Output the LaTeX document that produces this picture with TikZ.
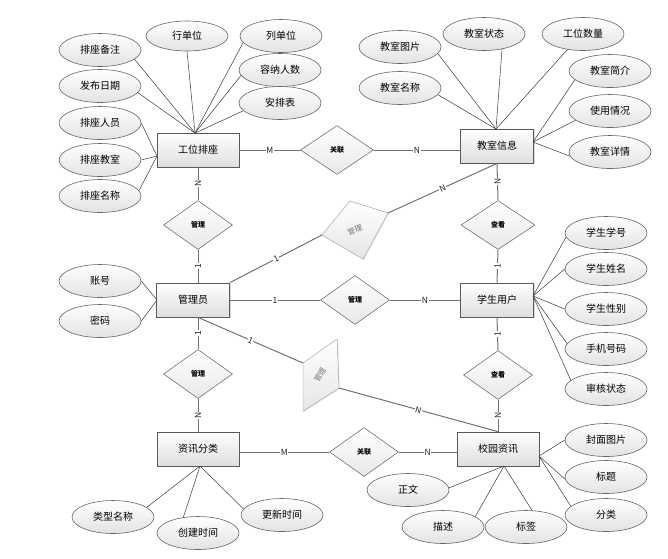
\documentclass[tikz,border=0pt]{standalone}
\usepackage{fontspec}
\setmainfont{Noto Sans CJK SC}
\usetikzlibrary{shapes.geometric,shadows}
\begin{document}
\begin{tikzpicture}[x=1pt,y=-1pt,
 ent/.style={rectangle,draw=black!65,line width=0.8pt,top color=white,bottom color=black!13,minimum width=82pt,minimum height=34pt,inner sep=0pt,font=\fontsize{10}{12}\selectfont,drop shadow={shadow xshift=1.2pt,shadow yshift=-1.2pt,opacity=0.3}},
 attr/.style={ellipse,draw=black!60,line width=0.6pt,top color=white,bottom color=black!11,minimum width=82pt,minimum height=33pt,inner sep=0pt,font=\fontsize{10}{12}\selectfont},
 rel/.style={diamond,draw=black!55,line width=0.6pt,top color=white,bottom color=black!9,minimum width=69pt,minimum height=49pt,inner sep=0pt,font=\fontsize{7}{8}\selectfont\bfseries},
 skew/.style={draw=black!25,line width=0.5pt,top color=white,bottom color=black!10,drop shadow={shadow xshift=1pt,shadow yshift=-1pt,opacity=0.2}},
 skewtext/.style={text=black!55,font=\fontsize{7.5}{8}\selectfont,inner sep=0pt},
 al/.style={draw=black!72,line width=0.55pt},
 rl/.style={draw=black!55,line width=1pt},
 card/.style={fill=white,inner sep=0.6pt,text=black!85,font=\fontsize{8.5}{9}\selectfont}
]
\useasboundingbox (0,0) rectangle (668,558);

% entities
\node[ent] (A) at (198,150) {工位排座};
\node[ent,minimum width=73pt] (B) at (497,146) {教室信息};
\node[ent,minimum width=73pt] (C) at (193,300) {管理员};
\node[ent,minimum width=73pt] (D) at (497,300) {学生用户};
\node[ent] (E) at (198,449) {资讯分类};
\node[ent] (F) at (498,449) {校园资讯};

% relationships
\node[rel,minimum width=73pt] (r1) at (337,150) {关联};
\node[rel] (r2) at (198,225) {管理};
\node[rel,minimum width=74pt] (r3) at (498,225) {查看};
\node[rel] (r4) at (355,300) {管理};
\node[rel] (r5) at (198,374) {管理};
\node[rel] (r6) at (498,375) {查看};
\node[rel] (r7) at (364,452) {关联};

% skewed relationships
\filldraw[skew] (350,201) -- (388,213) -- (363,259) -- (322,235) -- cycle;
\coordinate (q1l) at (322,235);
\coordinate (q1r) at (388,213);
\node[skewtext,rotate=20] (q1t) at (355,230) {管理};
\filldraw[skew] (337,339) -- (339,388) -- (303,411) -- (303,363) -- cycle;
\coordinate (q2l) at (303,363);
\coordinate (q2r) at (339,388);
\node[skewtext,rotate=60] (q2t) at (320,375) {管理};

% relationship connectors
\draw[rl] (r1.west -| A.east) -- node[card]{M} (r1.west);
\draw[rl] (r1.east) -- node[card]{N} (r1.east -| B.west);
\draw[rl] (A.south) -- node[card,rotate=90]{N} (r2.north);
\draw[rl] (r2.south) -- node[card,rotate=90]{1} (r2.south |- C.north);
\draw[rl] (C.north east) -- node[card,sloped]{1} (q1l);
\draw[rl] (q1r) -- node[card,sloped]{N} (B.south);
\draw[rl] (C.east) -- node[card]{1} (r4.west);
\draw[rl] (r4.east) -- node[card]{N} (D.west);
\draw[rl] (r5.north |- C.south) -- node[card,rotate=90]{1} (r5.north);
\draw[rl] (r5.south) -- node[card,rotate=90]{N} (E.north);
\draw[rl] (r5.north |- C.south) -- node[card,sloped]{1} (q2l);
\draw[rl] (q2r) -- node[card,sloped]{N} (F.north);
\draw[rl] (B.south) -- node[card,rotate=90]{N} (r3.north);
\draw[rl] (r3.south) -- node[card,rotate=90]{1} (D.north);
\draw[rl] (D.south) -- node[card,rotate=90]{1} (r6.north);
\draw[rl] (r6.south) -- node[card,rotate=90]{N} (F.north);
\draw[rl] (r7.west -| E.east) -- node[card]{M} (r7.west);
\draw[rl] (r7.east) -- node[card]{N} (r7.east -| F.west);

% attributes of 工位排座
\node[attr] (a1) at (100,50) {排座备注};
\node[attr] (a2) at (100,86) {发布日期};
\node[attr] (a3) at (100,123) {排座人员};
\node[attr] (a4) at (100,160) {排座教室};
\node[attr] (a5) at (100,196) {排座名称};
\node[attr,minimum height=30pt] (a6) at (187,36) {行单位};
\node[attr] (a7) at (281,36) {列单位};
\node[attr] (a8) at (280,70) {容纳人数};
\node[attr] (a9) at (280,103) {安排表};
\coordinate (Atop) at (195,133);
\coordinate (Aleft) at (157,156);
\draw[al] (a1.345) -- (Atop);
\draw[al] (a2.350) -- (Atop);
\draw[al] (a6.south) -- (Atop);
\draw[al] (a7.190) -- (Atop);
\draw[al] (a8.188) -- (Atop);
\draw[al] (a9.192) -- (Atop);
\draw[al] (a3.east) -- (Aleft);
\draw[al] (a4.east) -- (Aleft);
\draw[al] (a5.8) -- (Aleft);

% attributes of 教室信息
\node[attr] (b1) at (400,47) {教室图片};
\node[attr] (b2) at (484,34) {教室状态};
\node[attr] (b3) at (583,34) {工位数量};
\node[attr] (b4) at (400,88) {教室名称};
\node[attr] (b5) at (610,71) {教室简介};
\node[attr] (b6) at (610,111) {使用情况};
\node[attr] (b7) at (610,152) {教室详情};
\coordinate (Btop) at (496,129);
\coordinate (Bright) at (533,142);
\draw[al] (b1.350) -- (Btop);
\draw[al] (b4.350) -- (Btop);
\draw[al] (b2.320) -- (Btop);
\draw[al] (b3.225) -- (Btop);
\draw[al] (b5.194) -- (Bright);
\draw[al] (b6.195) -- (Bright);
\draw[al] (b7.186) -- (Bright);

% attributes of 管理员
\node[attr] (c1) at (100,281) {账号};
\node[attr] (c2) at (100,321) {密码};
\coordinate (Cleft) at (157,300);
\draw[al] (c1.east) -- (Cleft);
\draw[al] (c2.east) -- (Cleft);

% attributes of 学生用户
\node[attr] (d1) at (606,233) {学生学号};
\node[attr] (d2) at (606,269) {学生姓名};
\node[attr] (d3) at (606,309) {学生性别};
\node[attr] (d4) at (606,349) {手机号码};
\node[attr] (d5) at (606,389) {审核状态};
\coordinate (Dright) at (533,296);
\draw[al] (d1.186) -- (Dright);
\draw[al] (d2.west) -- (Dright);
\draw[al] (d3.west) -- (Dright);
\draw[al] (d4.172) -- (Dright);
\draw[al] (d5.166) -- (Dright);

% attributes of 资讯分类
\node[attr] (e1) at (113,517) {类型名称};
\node[attr] (e2) at (198,533) {创建时间};
\node[attr] (e3) at (282,515) {更新时间};
\coordinate (Ebot) at (200,466);
\draw[al] (e1.16) -- (Ebot);
\draw[al] (e2.133) -- (Ebot);
\draw[al] (e3.171) -- (Ebot);

% attributes of 校园资讯
\node[attr] (f1) at (606,440) {封面图片};
\node[attr] (f2) at (606,477) {标题};
\node[attr] (f3) at (606,515) {分类};
\node[attr] (f4) at (408,490) {正文};
\node[attr] (f5) at (443,527) {描述};
\node[attr] (f6) at (526,527) {标签};
\coordinate (Fright) at (539,456);
\coordinate (Fbot) at (504,466);
\draw[al] (f1.west) -- (Fright);
\draw[al] (f2.183) -- (Fright);
\draw[al] (f3.166) -- (Fright);
\draw[al] (f4.3) -- (Fbot);
\draw[al] (f5.18) -- (Fbot);
\draw[al] (f6.70) -- (Fbot);
\end{tikzpicture}
\end{document}
